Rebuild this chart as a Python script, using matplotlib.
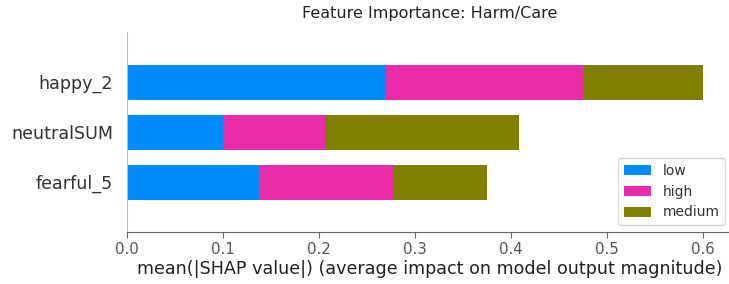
import matplotlib
matplotlib.use("Agg")
import matplotlib.pyplot as plt
import numpy as np

features = ["fearful_5", "neutralSUM", "happy_2"]
classes = ["low", "high", "medium"]
low_vals = [0.137, 0.100, 0.270]
high_vals = [0.140, 0.106, 0.205]
medium_vals = [0.098, 0.202, 0.125]
class_colors = ["#008bfb", "#e82caa", "#808000"]
title = "Feature Importance: Harm/Care"
xlabel = "mean(|SHAP value|) (average impact on model output magnitude)"
xticks = [0.0, 0.1, 0.2, 0.3, 0.4, 0.5, 0.6]

fig = plt.figure(figsize=(7.29, 2.84), dpi=100)
ax = fig.add_axes([127 / 729, 1 - 232 / 284, (732 - 127) / 729, 200 / 284])

y = np.arange(len(features))
left = np.zeros(len(features))
for name, vals, col in zip(classes, [low_vals, high_vals, medium_vals], class_colors):
    ax.barh(y, vals, left=left, height=0.7, color=col, label=name)
    left = left + np.array(vals)

ax.set_ylim(-1, len(features))
ax.set_xlim(0, 0.63)
ax.set_yticks(y)
ax.set_yticklabels(features, fontsize=12.6, color="#333333")
ax.set_xticks(xticks)
ax.set_xticklabels([f"{v:.1f}" for v in xticks], fontsize=10.8, color="#555555")
ax.tick_params(axis="y", length=0, pad=10)
ax.tick_params(axis="x", color="#666666", length=4)
ax.spines["top"].set_visible(False)
ax.spines["right"].set_visible(False)
ax.spines["left"].set_color("#bbbbbb")
ax.spines["bottom"].set_color("#666666")
ax.set_xlabel(xlabel, fontsize=12.6, color="#222222", labelpad=2)
ax.set_title(title, fontsize=11.5, color="#222222", pad=10)
leg = ax.legend(loc="lower right", fontsize=10, frameon=True)
for t in leg.get_texts():
    t.set_color("#333333")

fig.savefig("out.png", dpi=100)
